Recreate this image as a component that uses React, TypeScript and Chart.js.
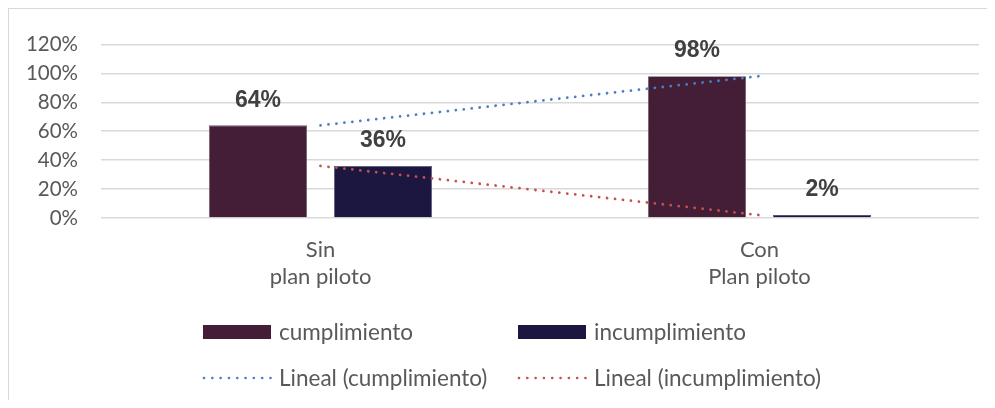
import React, { useEffect, useRef } from "react";
import { Chart, registerables } from "chart.js";

Chart.register(...registerables);

// Categories (two-line labels) and series, in percent
const categories: string[][] = [
  ["Sin", "plan piloto"],
  ["Con", "Plan piloto"],
];
const cumplimiento: number[] = [64, 98];
const incumplimiento: number[] = [36, 2];
const yTicks: number[] = [0, 20, 40, 60, 80, 100, 120];

const COLOR_CUMPL = "#441e37";
const COLOR_INCUMPL = "#1b1740";
const COLOR_TREND_CUMPL = "#4a7ec6";
const COLOR_TREND_INCUMPL = "#c8504c";
const TEXT_GRAY = "#595959";
const LABEL_FONT = "Lato, 'Open Sans', sans-serif";

// Bold value labels above each bar
const barValueLabels = {
  id: "barValueLabels",
  afterDatasetsDraw(chart: any) {
    const ctx = chart.ctx;
    ctx.save();
    ctx.font = "bold 23px 'Liberation Sans', Arial, sans-serif";
    ctx.fillStyle = "#404040";
    ctx.textAlign = "center";
    ctx.textBaseline = "middle";
    chart.data.datasets.forEach((ds: any, i: number) => {
      if (ds.type !== "bar") return;
      const meta = chart.getDatasetMeta(i);
      meta.data.forEach((bar: any, j: number) => {
        ctx.fillText(`${ds.data[j]}%`, bar.x, bar.y - 25);
      });
    });
    ctx.restore();
  },
};

// Two-by-two legend below the axis labels: bars on the first row, trendlines on the second
const gridLegend = {
  id: "gridLegend",
  afterDraw(chart: any) {
    const ctx = chart.ctx;
    const rows = [323, 369];
    const cols = [194, 509];
    const swatchW = 68;
    ctx.save();
    ctx.font = `22.5px ${LABEL_FONT}`;
    ctx.textBaseline = "middle";
    ctx.textAlign = "left";
    let barCount = 0;
    let lineCount = 0;
    chart.data.datasets.forEach((ds: any) => {
      const isBar = ds.type === "bar";
      const col = isBar ? barCount++ : lineCount++;
      const x = cols[col];
      const y = rows[isBar ? 0 : 1];
      if (isBar) {
        ctx.fillStyle = ds.backgroundColor;
        ctx.fillRect(x, y - 7, swatchW, 14);
      } else {
        ctx.strokeStyle = ds.borderColor;
        ctx.lineWidth = 2.7;
        ctx.lineCap = "round";
        ctx.setLineDash([0.01, 8.3]);
        ctx.beginPath();
        ctx.moveTo(x + 1, y);
        ctx.lineTo(x + swatchW + 1, y);
        ctx.stroke();
        ctx.setLineDash([]);
      }
      ctx.fillStyle = TEXT_GRAY;
      ctx.fillText(ds.label, x + swatchW + 8, y + 1);
    });
    ctx.restore();
  },
};

export default function App() {
  const canvasRef = useRef<HTMLCanvasElement | null>(null);

  useEffect(() => {
    if (!canvasRef.current) return;
    const chart = new Chart(canvasRef.current, {
      type: "bar",
      data: {
        labels: categories,
        datasets: [
          {
            type: "bar",
            label: "cumplimiento",
            data: cumplimiento,
            backgroundColor: COLOR_CUMPL,
            borderColor: "#6b5566",
            borderWidth: 0.8,
            categoryPercentage: 0.57,
            barPercentage: 0.784,
            order: 2,
          },
          {
            type: "bar",
            label: "incumplimiento",
            data: incumplimiento,
            backgroundColor: COLOR_INCUMPL,
            borderColor: "#55537a",
            borderWidth: 0.8,
            categoryPercentage: 0.57,
            barPercentage: 0.784,
            order: 2,
          },
          {
            type: "line",
            label: "Lineal (cumplimiento)",
            data: cumplimiento,
            borderColor: COLOR_TREND_CUMPL,
            backgroundColor: COLOR_TREND_CUMPL,
            borderWidth: 2.8,
            borderDash: [0.01, 8],
            borderCapStyle: "round",
            pointRadius: 0,
            fill: false,
            order: 1,
          },
          {
            type: "line",
            label: "Lineal (incumplimiento)",
            data: incumplimiento,
            borderColor: COLOR_TREND_INCUMPL,
            backgroundColor: COLOR_TREND_INCUMPL,
            borderWidth: 2.8,
            borderDash: [0.01, 8],
            borderCapStyle: "round",
            pointRadius: 0,
            fill: false,
            order: 1,
          },
        ] as any,
      },
      options: {
        animation: false,
        responsive: false,
        maintainAspectRatio: false,
        layout: { padding: { left: 0, right: 16, top: 28, bottom: 0 } },
        plugins: {
          legend: { display: false },
          tooltip: { enabled: false },
        },
        scales: {
          x: {
            grid: { display: false, drawTicks: false },
            border: { display: false },
            ticks: {
              color: TEXT_GRAY,
              font: { family: LABEL_FONT, size: 22, lineHeight: 1.2 },
              padding: 19,
              maxRotation: 0,
            },
            afterFit(scale: any) {
              scale.height = 182;
            },
          },
          y: {
            min: 0,
            max: 120,
            grid: { color: "#d9d9d9", lineWidth: 1.4, drawTicks: false },
            border: { display: false },
            afterBuildTicks(scale: any) {
              scale.ticks = yTicks.map((v) => ({ value: v }));
            },
            ticks: {
              color: TEXT_GRAY,
              font: { family: LABEL_FONT, size: 20.5 },
              padding: 23,
              callback: (v: any) => `${v}%`,
            },
            afterFit(scale: any) {
              scale.width = 92;
            },
          },
        },
      },
      plugins: [barValueLabels, gridLegend],
    });
    return () => chart.destroy();
  }, []);

  return (
    <div
      style={{
        position: "relative",
        width: 987,
        height: 392,
        boxSizing: "border-box",
        borderTop: "1px solid #d9d9d9",
        borderLeft: "1px solid #d9d9d9",
        background: "#ffffff",
      }}
    >
      <canvas
        ref={canvasRef}
        width={986}
        height={391}
        style={{ position: "absolute", left: 0, top: 0, width: 986, height: 391 }}
      />
    </div>
  );
}
